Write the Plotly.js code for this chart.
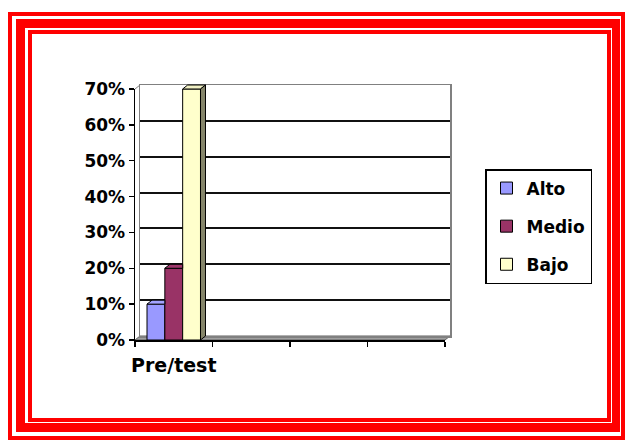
<!DOCTYPE html>
<html>
<head>
<meta charset="utf-8">
<script src="https://cdn.plot.ly/plotly-3.0.1.min.js"></script>
<style>
  html, body { margin: 0; padding: 0; background: #ffffff; }
  #wrap { position: relative; width: 625px; height: 443px; overflow: hidden; background: #ffffff; }
  .frame { position: absolute; box-sizing: border-box; border-style: solid; border-color: #ff0000; }
  #f1 { left: 8px; top: 12px; width: 617px; height: 428px; border-width: 4px; }
  #f2 { left: 16px; top: 19px; width: 604px; height: 413px; border-width: 9px 8px 9px 9px; }
  #f3 { left: 28px; top: 30px; width: 583px; height: 392px; border-width: 4px; }
  #chart { position: absolute; left: 0; top: 0; width: 625px; height: 443px; }
</style>
</head>
<body>
<div id="wrap">
  <div class="frame" id="f1"></div>
  <div class="frame" id="f2"></div>
  <div class="frame" id="f3"></div>
  <div id="chart"></div>
</div>
<script>
// ---- data ----
const categories = ['Pre/test'];
const slotCount = 4;
const seriesNames = ['Alto', 'Medio', 'Bajo'];
const alto = [0.10];
const medio = [0.20];
const bajo = [0.70];
const yTickVals = [0, 0.1, 0.2, 0.3, 0.4, 0.5, 0.6, 0.7];
const yTickText = ['0%', '10%', '20%', '30%', '40%', '50%', '60%', '70%'];

// ---- styles / geometry ----
const W = 625, H = 443;
const FL = 135, FR = 445, FT = 89, FB = 340;   // front plane (pixels)
const DX = 5, DY = 4;                          // 3D depth offset
const frontColors = ['#9999ff', '#993366', '#ffffcc'];
const topColors = ['#a3a3ff', '#9e386b', '#f0f0c4'];
const sideColors = ['#6b6bb3', '#6b2447', '#85856a'];
const bargap = 0.31;
const fontFam = 'DejaVu Sans, Arial, sans-serif';

const xRange = [-0.5, slotCount - 0.5];
const yRange = [0, 0.7];
const xSpan = xRange[1] - xRange[0], ySpan = yRange[1] - yRange[0];
const dxFrac = DX / (FR - FL);      // depth in x2-domain fraction
const dyFrac = DY / (FB - FT);      // depth in y2-domain fraction
const fx = v => (v - xRange[0]) / xSpan;
const fy = v => (v - yRange[0]) / ySpan;

const xIdx = categories.map((c, i) => i);
const values = [alto, medio, bajo];

const traces = values.map((v, k) => ({
  type: 'bar',
  name: seriesNames[k],
  x: xIdx,
  y: v,
  xaxis: 'x2', yaxis: 'y2',
  legendgroup: 'g' + k,
  marker: { color: frontColors[k], line: { color: '#000000', width: 1 } },
  hoverinfo: 'skip'
}));
// empty helpers so the back wall and the label axis get drawn
traces.unshift({ type: 'scatter', x: [], y: [], xaxis: 'x', yaxis: 'y', showlegend: false, hoverinfo: 'skip' });
traces.push({ type: 'scatter', x: [], y: [], xaxis: 'x3', yaxis: 'y2', showlegend: false, hoverinfo: 'skip' });

// 3D faces (top + side), placed from the bar positions
const shapes = [];
const barW = (1 - bargap) / values.length;
// floor
shapes.push({
  type: 'path', xref: 'x2 domain', yref: 'y2 domain', layer: 'below',
  path: `M0,0 L1,0 L${1 + dxFrac},${dyFrac} L${dxFrac},${dyFrac} Z`,
  fillcolor: '#a0a0a0', line: { color: '#606060', width: 1 }
});
values.forEach((v, k) => {
  v.forEach((val, i) => {
    const left = fx(xIdx[i] - (1 - bargap) / 2 + k * barW);
    const right = fx(xIdx[i] - (1 - bargap) / 2 + (k + 1) * barW);
    const next = k < values.length - 1 ? values[k + 1][i] : null;
    const hidden = next !== null && next >= val;   // next bar covers right part
    const top = fy(val);
    const topPath = hidden
      ? `M${left},${top} L${right},${top} L${right},${top + dyFrac} L${left + dxFrac},${top + dyFrac} Z`
      : `M${left},${top} L${right},${top} L${right + dxFrac},${top + dyFrac} L${left + dxFrac},${top + dyFrac} Z`;
    shapes.push({
      type: 'path', xref: 'x2 domain', yref: 'y2 domain', layer: 'above',
      path: topPath, fillcolor: topColors[k], line: { color: '#000000', width: 1 }
    });
    if (!hidden) {
      shapes.push({
        type: 'path', xref: 'x2 domain', yref: 'y2 domain', layer: 'above',
        path: `M${right},0 L${right},${top} L${right + dxFrac},${top + dyFrac} L${right + dxFrac},${dyFrac} Z`,
        fillcolor: sideColors[k], line: { color: '#000000', width: 1 }
      });
    }
  });
});
// side wall top diagonal
shapes.push({
  type: 'line', xref: 'x2 domain', yref: 'y2 domain', layer: 'above',
  x0: 0, y0: 1, x1: dxFrac, y1: 1 + dyFrac,
  line: { color: '#808080', width: 1 }
});

const layout = {
  width: W, height: H,
  margin: { l: 0, r: 0, t: 0, b: 0 },
  paper_bgcolor: 'rgba(0,0,0,0)',
  plot_bgcolor: 'rgba(0,0,0,0)',
  barmode: 'group',
  bargap: bargap,
  bargroupgap: 0,
  showlegend: true,
  font: { family: fontFam, color: '#000000' },
  // back wall
  xaxis: {
    domain: [(FL + DX) / W, (FR + DX) / W], anchor: 'y',
    range: xRange, showgrid: false, zeroline: false,
    showline: true, mirror: true, linecolor: '#808080', linewidth: 1.5,
    ticks: '', showticklabels: false, fixedrange: true
  },
  yaxis: {
    domain: [1 - (FB - DY) / H, 1 - (FT - DY) / H], anchor: 'x',
    range: yRange, tickmode: 'array', tickvals: yTickVals.slice(1, -1),
    showgrid: true, gridcolor: '#111111', gridwidth: 2, zeroline: false,
    showline: true, mirror: true, linecolor: '#808080', linewidth: 1.5,
    ticks: '', showticklabels: false, fixedrange: true
  },
  // front plane
  xaxis2: {
    domain: [FL / W, FR / W], anchor: 'y2',
    range: xRange, tickmode: 'array',
    tickvals: Array.from({ length: slotCount + 1 }, (_, i) => i - 0.5),
    ticks: 'outside', ticklen: 5, tickcolor: '#000000', tickwidth: 1.5,
    showticklabels: false, showgrid: false, zeroline: false,
    showline: true, linecolor: '#000000', linewidth: 1.5, fixedrange: true
  },
  xaxis3: {
    overlaying: 'x2', anchor: 'y2', side: 'bottom',
    range: xRange, tickmode: 'array', tickvals: xIdx, ticktext: categories,
    ticks: '', showgrid: false, zeroline: false, showline: false,
    ticklabelstandoff: 12,
    tickfont: { family: fontFam, size: 19, weight: 'bold', color: '#000000' },
    fixedrange: true
  },
  yaxis2: {
    domain: [1 - FB / H, 1 - FT / H], anchor: 'x2',
    range: yRange, tickmode: 'array', tickvals: yTickVals, ticktext: yTickText,
    ticks: 'outside', ticklen: 5, tickcolor: '#000000', tickwidth: 1.5,
    showgrid: false, zeroline: false,
    showline: true, linecolor: '#000000', linewidth: 1.5,
    tickfont: { family: fontFam, size: 17, weight: 'bold', color: '#000000' },
    fixedrange: true
  },
  legend: {
    x: 485 / W, xanchor: 'left', y: 1 - 169 / H, yanchor: 'top',
    bgcolor: '#ffffff', bordercolor: '#000000', borderwidth: 1.5,
    font: { family: fontFam, size: 17, weight: 'bold', color: '#000000' },
    traceorder: 'grouped', tracegroupgap: 13
  },
  shapes: shapes
};

Plotly.newPlot('chart', traces, layout, { displayModeBar: false, staticPlot: true });
</script>
</body>
</html>
